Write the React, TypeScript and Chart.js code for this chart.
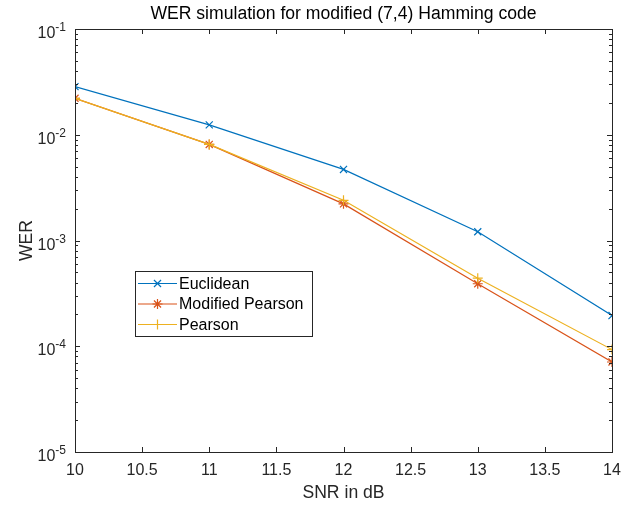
import React, { useEffect, useRef } from "react";
import { Chart, registerables } from "chart.js";

Chart.register(...registerables);

const snr = [10, 11, 12, 13, 14];
const euclidean = [0.0285, 0.0124, 0.0047, 0.00121, 0.000195];
const modifiedPearson = [0.0221, 0.0081, 0.00222, 0.00039, 0.000071];
const pearson = [0.0221, 0.0081, 0.0024, 0.00044, 0.000093];
const seriesLabels = ["Euclidean", "Modified Pearson", "Pearson"];
const seriesColors = ["#0072BD", "#D95319", "#EDB120"];
const seriesMarkers = ["crossRot", "star", "cross"];
const xTicks = [10, 10.5, 11, 11.5, 12, 12.5, 13, 13.5, 14];
const yExponents = [-1, -2, -3, -4, -5];
const titleText = "WER simulation for modified (7,4) Hamming code";
const xLabelText = "SNR in dB";
const yLabelText = "WER";

const FONT = "'Liberation Sans', Arial, Helvetica, sans-serif";
const AXIS = "#262626";

function drawMarker(ctx: CanvasRenderingContext2D, style: string, x: number, y: number, r: number) {
  ctx.beginPath();
  if (style === "cross" || style === "star") {
    ctx.moveTo(x - r, y);
    ctx.lineTo(x + r, y);
    ctx.moveTo(x, y - r);
    ctx.lineTo(x, y + r);
  }
  if (style === "crossRot" || style === "star") {
    const d = r * Math.SQRT1_2;
    ctx.moveTo(x - d, y - d);
    ctx.lineTo(x + d, y + d);
    ctx.moveTo(x - d, y + d);
    ctx.lineTo(x + d, y - d);
  }
  ctx.stroke();
}

const decorPlugin = {
  id: "matlabDecor",
  afterDraw(chart: any) {
    const ctx: CanvasRenderingContext2D = chart.ctx;
    const a = chart.chartArea;
    const xs = chart.scales.x;
    const ys = chart.scales.y;
    ctx.save();
    ctx.strokeStyle = AXIS;
    ctx.lineWidth = 1;
    // box
    ctx.strokeRect(Math.round(a.left) + 0.5, Math.round(a.top) + 0.5, Math.round(a.right - a.left), Math.round(a.bottom - a.top));
    // x ticks
    ctx.beginPath();
    for (const v of xTicks) {
      const px = Math.round(xs.getPixelForValue(v)) + 0.5;
      ctx.moveTo(px, a.bottom);
      ctx.lineTo(px, a.bottom - 5);
      ctx.moveTo(px, a.top);
      ctx.lineTo(px, a.top + 5);
    }
    // y ticks (major + minor)
    for (let e = -5; e <= -2; e++) {
      for (let m = 1; m <= 9; m++) {
        const v = m * Math.pow(10, e);
        const py = Math.round(ys.getPixelForValue(v)) + 0.5;
        const len = m === 1 ? 5 : 3;
        ctx.moveTo(a.left, py);
        ctx.lineTo(a.left + len, py);
        ctx.moveTo(a.right, py);
        ctx.lineTo(a.right - len, py);
      }
    }
    ctx.stroke();

    // x tick labels
    ctx.fillStyle = AXIS;
    ctx.font = `16px ${FONT}`;
    ctx.textAlign = "center";
    ctx.textBaseline = "middle";
    for (const v of xTicks) {
      ctx.fillText(String(v), xs.getPixelForValue(v), a.bottom + 19);
    }
    // y tick labels 10^e
    ctx.textBaseline = "alphabetic";
    for (const e of yExponents) {
      const py = ys.getPixelForValue(Math.pow(10, e));
      const expStr = "-" + String(-e);
      ctx.font = `12px ${FONT}`;
      ctx.textAlign = "right";
      const right = a.left - 9;
      ctx.fillText(expStr, right, py + 2);
      const w = ctx.measureText(expStr).width;
      ctx.font = `16px ${FONT}`;
      ctx.fillText("10", right - w, py + 9);
    }
    // axis labels
    ctx.font = `17.6px ${FONT}`;
    ctx.textAlign = "center";
    ctx.textBaseline = "middle";
    const cx = (a.left + a.right) / 2;
    ctx.fillText(xLabelText, cx, 493);
    ctx.save();
    ctx.translate(27, (a.top + a.bottom) / 2);
    ctx.rotate(-Math.PI / 2);
    ctx.fillText(yLabelText, 0, 0);
    ctx.restore();
    // title
    ctx.fillStyle = "#000000";
    ctx.fillText(titleText, cx, 14);

    // legend
    const lx = 135, ly = 271, lw = 177, lh = 65;
    ctx.fillStyle = "#ffffff";
    ctx.fillRect(lx, ly, lw, lh);
    ctx.strokeStyle = AXIS;
    ctx.strokeRect(lx + 0.5, ly + 0.5, lw, lh);
    ctx.font = `16px ${FONT}`;
    ctx.textAlign = "left";
    ctx.textBaseline = "middle";
    seriesLabels.forEach((label, i) => {
      const ry = ly + 12.5 + i * 20.5;
      ctx.strokeStyle = seriesColors[i];
      ctx.lineWidth = 1.2;
      ctx.beginPath();
      ctx.moveTo(138, ry);
      ctx.lineTo(177, ry);
      ctx.stroke();
      drawMarker(ctx, seriesMarkers[i], 157.5, ry, 5);
      ctx.fillStyle = "#000000";
      ctx.fillText(label, 179, ry + 1);
    });
    ctx.restore();
  },
};

export default function App() {
  const ref = useRef<HTMLCanvasElement | null>(null);
  useEffect(() => {
    if (!ref.current) return;
    const series = [euclidean, modifiedPearson, pearson];
    const chart = new Chart(ref.current, {
      type: "line",
      data: {
        datasets: series.map((vals, i) => ({
          label: seriesLabels[i],
          data: snr.map((x, j) => ({ x, y: vals[j] })),
          borderColor: seriesColors[i],
          backgroundColor: seriesColors[i],
          pointBorderColor: seriesColors[i],
          pointBackgroundColor: seriesColors[i],
          borderWidth: 1.2,
          pointRadius: 5,
          pointBorderWidth: 1.2,
          pointStyle: seriesMarkers[i] as any,
          tension: 0,
          fill: false,
          order: 2 - i,
        })),
      },
      options: {
        animation: false,
        responsive: false,
        devicePixelRatio: 1,
        layout: { padding: { top: 29, right: 12, bottom: 0, left: 0 } },
        plugins: { legend: { display: false }, tooltip: { enabled: false }, title: { display: false } },
        scales: {
          x: {
            type: "linear",
            min: 10,
            max: 14,
            grid: { display: false },
            border: { display: false },
            ticks: { display: false },
            afterFit: (s: any) => { s.height = 57; },
          },
          y: {
            type: "logarithmic",
            min: 1e-5,
            max: 1e-1,
            grid: { display: false },
            border: { display: false },
            ticks: { display: false },
            afterFit: (s: any) => { s.width = 75; },
          },
        },
      },
      plugins: [decorPlugin],
    });
    return () => chart.destroy();
  }, []);
  return (
    <div style={{ position: "fixed", left: 0, top: 0, width: 624, height: 509, background: "#ffffff" }}>
      <canvas ref={ref} width={624} height={509} style={{ width: 624, height: 509, display: "block" }} />
    </div>
  );
}
